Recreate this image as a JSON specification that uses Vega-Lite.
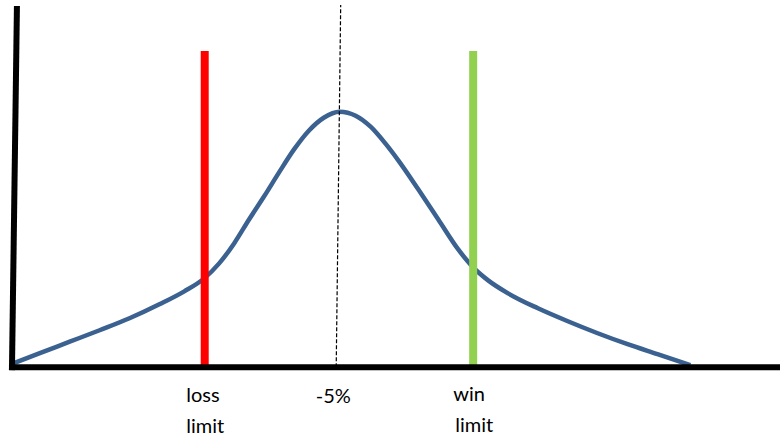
{
  "$schema": "https://vega.github.io/schema/vega-lite/v6.json",
  "width": 783,
  "height": 437,
  "autosize": {"type": "fit", "contains": "padding"},
  "padding": 0,
  "background": "white",
  "config": {"view": {"stroke": null}},
  "layer": [
    {
      "data": {"values": [
        {"x": 0, "y": 4}, {"x": 26, "y": 14}, {"x": 56, "y": 25.5}, {"x": 86, "y": 37},
        {"x": 116, "y": 49}, {"x": 146, "y": 63}, {"x": 171, "y": 76}, {"x": 191, "y": 89},
        {"x": 206, "y": 104}, {"x": 221, "y": 124}, {"x": 236, "y": 148}, {"x": 251, "y": 171},
        {"x": 266, "y": 195}, {"x": 281, "y": 218}, {"x": 296, "y": 237}, {"x": 311, "y": 250},
        {"x": 327, "y": 256}, {"x": 343, "y": 252}, {"x": 358, "y": 241}, {"x": 373, "y": 224},
        {"x": 386, "y": 207}, {"x": 406, "y": 178}, {"x": 426, "y": 148}, {"x": 446, "y": 118},
        {"x": 461, "y": 100}, {"x": 476, "y": 87}, {"x": 496, "y": 74}, {"x": 526, "y": 59},
        {"x": 556, "y": 46}, {"x": 586, "y": 34}, {"x": 616, "y": 23}, {"x": 646, "y": 13},
        {"x": 679, "y": 2}
      ]},
      "mark": {"type": "line", "color": "#3A6190", "strokeWidth": 4.5, "interpolate": "monotone"},
      "encoding": {
        "x": {"field": "x", "type": "quantitative", "scale": {"domain": [-14, 769], "nice": false, "zero": false}, "axis": null},
        "y": {"field": "y", "type": "quantitative", "scale": {"domain": [-69, 368], "nice": false, "zero": false}, "axis": null}
      }
    },
    {
      "data": {"values": [
        {"name": "loss", "x": 191.5, "x2": 191.5, "y": 0, "y2": 317, "c": "#FF0000"},
        {"name": "win", "x": 461, "x2": 461, "y": 0, "y2": 317, "c": "#92D050"}
      ]},
      "mark": {"type": "rule", "strokeWidth": 8},
      "encoding": {
        "x": {"field": "x", "type": "quantitative"},
        "x2": {"field": "x2"},
        "y": {"field": "y", "type": "quantitative"},
        "y2": {"field": "y2"},
        "color": {"field": "c", "type": "nominal", "scale": null}
      }
    },
    {
      "data": {"values": [{"x": 323.5, "x2": 328, "y": 0, "y2": 363}]},
      "mark": {"type": "rule", "strokeWidth": 1.2, "color": "black", "strokeDash": [4, 2]},
      "encoding": {
        "x": {"field": "x", "type": "quantitative"},
        "x2": {"field": "x2"},
        "y": {"field": "y", "type": "quantitative"},
        "y2": {"field": "y2"}
      }
    },
    {
      "data": {"values": [
        {"axis": "y", "x": -2, "x2": 3, "y": -3, "y2": 362},
        {"axis": "x", "x": -5, "x2": 769, "y": 0, "y2": 0}
      ]},
      "mark": {"type": "rule", "strokeWidth": 6, "color": "black"},
      "encoding": {
        "x": {"field": "x", "type": "quantitative"},
        "x2": {"field": "x2"},
        "y": {"field": "y", "type": "quantitative"},
        "y2": {"field": "y2"}
      }
    },
    {
      "data": {"values": [
        {"t": "loss", "x": 173, "y": -35},
        {"t": "limit", "x": 173, "y": -66},
        {"t": "-5%", "x": 303, "y": -36},
        {"t": "win", "x": 441, "y": -34},
        {"t": "limit", "x": 443, "y": -65}
      ]},
      "mark": {"type": "text", "align": "left", "baseline": "alphabetic", "font": "Lato", "fontSize": 20, "color": "black"},
      "encoding": {
        "x": {"field": "x", "type": "quantitative"},
        "y": {"field": "y", "type": "quantitative"},
        "text": {"field": "t"}
      }
    }
  ]
}
